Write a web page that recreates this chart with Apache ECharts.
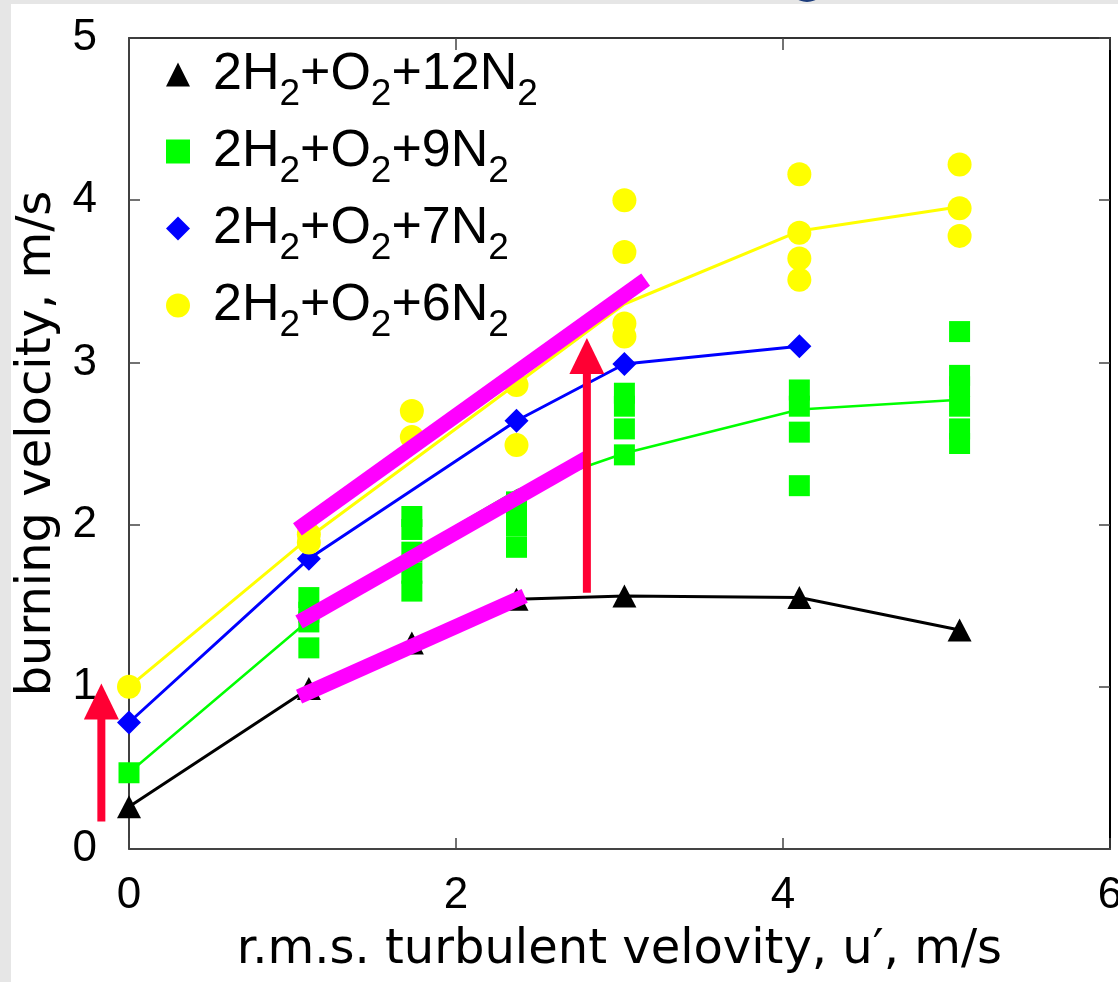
<!DOCTYPE html>
<html>
<head>
<meta charset="utf-8">
<script src="https://cdn.jsdelivr.net/npm/echarts/dist/echarts.min.js"></script>
<style>
html, body { margin: 0; padding: 0; background: #e6e6e6; }
#chart { width: 1118px; height: 982px; }
</style>
</head>
<body>
<div id="chart"></div>
<script>
// mixtures (legend order)
var mixNames = ['2H2+O2+12N2', '2H2+O2+9N2', '2H2+O2+7N2', '2H2+O2+6N2']

// measured points  [u', S_T]
var n12Pts = [[0,0.26],[1.1,0.99],[1.73,1.27],[2.37,1.54],[3.03,1.56],[4.1,1.55],[5.08,1.35]]
var n9Pts = [[0,0.47],
    [1.1,1.55],[1.1,1.46],[1.1,1.40],[1.1,1.24],
    [1.73,2.05],[1.73,1.97],[1.73,1.83],[1.73,1.70],[1.73,1.59],
    [2.37,2.14],[2.37,2.06],[2.37,1.99],[2.37,1.86],
    [3.03,2.81],[3.03,2.73],[3.03,2.59],[3.03,2.43],
    [4.1,2.83],[4.1,2.73],[4.1,2.57],[4.1,2.24],
    [5.08,3.19],[5.08,2.92],[5.08,2.85],[5.08,2.73],[5.08,2.59],[5.08,2.50]]
var n7Pts = [[0,0.78],[1.1,1.79],[2.37,2.64],[3.03,2.99],[4.1,3.10]]
var n6Pts = [[0,1.0],[1.1,1.94],[1.1,1.89],[1.73,2.70],[1.73,2.54],[2.37,2.86],[2.37,2.49],
    [3.03,4.0],[3.03,3.68],[3.03,3.24],[3.03,3.16],
    [4.1,4.16],[4.1,3.80],[4.1,3.64],[4.1,3.51],
    [5.08,4.22],[5.08,3.95],[5.08,3.78]]

// mean curves
var n12Line = [[0,0.26],[1.1,0.99],[1.73,1.27],[2.37,1.54],[3.03,1.56],[4.1,1.55],[5.08,1.35]]
var n9Line = [[0,0.47],[1.1,1.41],[1.73,1.83],[2.37,2.21],[3.03,2.44],[4.1,2.71],[5.08,2.77]]
var n7Line = [[0,0.78],[1.1,1.79],[2.37,2.64],[3.03,2.99],[4.1,3.10]]
var n6Line = [[0,1.0],[1.1,1.92],[3.03,3.36],[4.1,3.81],[5.08,3.96]]

// magenta guide lines and red arrows
var guideUpper = [[1.03,1.97],[3.16,3.51]]
var guideMiddle = [[1.04,1.40],[2.80,2.41]]
var guideLower = [[1.04,0.94],[2.42,1.56]]
var arrowLeft = [[-0.17,0.17],[-0.17,0.91]]
var arrowRight = [[2.80,1.58],[2.80,3.04]]

var xTicks = [0, 2, 4, 6]
var yTicks = [0, 1, 2, 3, 4, 5]

var colors = ['#000000', '#00ff00', '#0000ff', '#ffff00']
var symbols = ['triangle', 'rect', 'diamond', 'circle']
var symSizes = [[24,23], 21, 24, 24]
var lineWidths = [3, 2.5, 3, 3]

// plot box in px (used to put the inward tick axes on the opposite side)
var plotW = 981
var plotH = 811

var chart = echarts.init(document.getElementById('chart'))

var series = []
var pts = [n12Pts, n9Pts, n7Pts, n6Pts]
var lines = [n12Line, n9Line, n7Line, n6Line]
lines.forEach(function (d, i) {
    series.push({
        name: mixNames[i] + ' line',
        type: 'line',
        data: d,
        showSymbol: false,
        symbol: 'none',
        lineStyle: { color: colors[i], width: lineWidths[i] },
        z: 2
    })
})
pts.forEach(function (d, i) {
    series.push({
        name: mixNames[i],
        type: 'scatter',
        data: d,
        symbol: symbols[i],
        symbolSize: symSizes[i],
        itemStyle: { color: colors[i], opacity: 1 },
        z: 3
    })
})
;[guideUpper, guideMiddle, guideLower].forEach(function (d) {
    series.push({
        type: 'line',
        data: d,
        showSymbol: false,
        symbol: 'none',
        lineStyle: { color: '#ff00ff', width: 15, cap: 'butt' },
        z: 4
    })
})
// arrows live on a wider, hidden grid so the left one is not clipped
;[arrowLeft, arrowRight].forEach(function (d) {
    series.push({
        type: 'line',
        xAxisIndex: 2,
        yAxisIndex: 2,
        data: [
            { value: d[0], symbol: 'none' },
            { value: d[1], symbol: 'triangle', symbolSize: [35, 36] }
        ],
        showSymbol: true,
        itemStyle: { color: '#ff0033' },
        lineStyle: { color: '#ff0033', width: 8, cap: 'butt' },
        z: 5
    })
})

function formula(name) {
    return '{g| }{n|' + name.replace(/([A-Z])(\d+)/g, '$1}{s|$2}{n|') + '}'
}

var tickFont = { fontFamily: 'Liberation Sans', fontSize: 44, color: '#000' }

// axis that only draws ticks; placed on the opposite side so they point into the plot
function tickAxis(pos, off, min, max, step, len) {
    return {
        type: 'value', gridIndex: 2, min: min, max: max, interval: step, position: pos, offset: off,
        axisLine: { show: false, onZero: false },
        axisTick: { show: true, length: len, lineStyle: { color: '#444', width: 1.5 } },
        axisLabel: { show: false },
        splitLine: { show: false }
    }
}

var gridBox = { left: 129, right: 8, top: 38, bottom: 133, containLabel: false, outerBoundsMode: 'none' }

chart.setOption({
    animation: false,
    backgroundColor: '#e6e6e6',
    graphic: [
        { type: 'rect', shape: { x: 11, y: 4, width: 1107, height: 978 }, style: { fill: '#ffffff' }, z: -10, silent: true },
        { type: 'circle', shape: { cx: 807, cy: -17, r: 19 }, style: { fill: '#1c3c7c' }, z: -9, silent: true }
    ],
    grid: [
        gridBox,
        { left: 0, right: 8, top: 38, bottom: 133, containLabel: false, outerBoundsMode: 'none' },
        Object.assign({}, gridBox)
    ],
    legend: {
        orient: 'vertical',
        left: 161,
        top: 31,
        itemWidth: 24,
        itemHeight: 24,
        itemGap: 0,
        selectedMode: false,
        data: mixNames,
        formatter: formula,
        textStyle: {
            color: '#000',
            rich: {
                g: { width: 18 },
                n: { fontFamily: 'Liberation Sans', fontSize: 52, lineHeight: 56, color: '#000' },
                s: { fontFamily: 'Liberation Sans', fontSize: 37, lineHeight: 16, padding: [40, 0, 0, 0], color: '#000' }
            }
        }
    },
    xAxis: [
        {
            type: 'value', min: 0, max: 6, interval: 2,
            name: 'r.m.s. turbulent velovity, u\u2032, m/s',
            nameLocation: 'middle',
            nameGap: 78,
            nameTextStyle: { fontFamily: 'DejaVu Sans', fontSize: 48, color: '#000' },
            axisLine: { onZero: false, lineStyle: { color: '#444', width: 2 } },
            axisTick: { show: false },
            axisLabel: Object.assign({ margin: 25, formatter: function (v) { return xTicks.indexOf(v) >= 0 ? String(v) : '' } }, tickFont),
            splitLine: { show: false }
        },
        {
            type: 'value', min: 0, max: 6, interval: 2, position: 'top',
            axisLine: { onZero: false, lineStyle: { color: '#333', width: 2 } },
            axisTick: { show: false },
            axisLabel: { show: false },
            splitLine: { show: false }
        },
        { type: 'value', gridIndex: 1, min: -0.79, max: 6, show: false, axisLine: { onZero: false } },
        tickAxis('top', -plotH, 0, 6, 2, 11),
        tickAxis('bottom', -plotH, 0, 6, 2, 12)
    ],
    yAxis: [
        {
            type: 'value', min: 0, max: 5, interval: 1,
            name: 'burning velocity, m/s',
            nameLocation: 'middle',
            nameGap: 62,
            nameTextStyle: { fontFamily: 'DejaVu Sans', fontSize: 48, color: '#000' },
            axisLine: { onZero: false, lineStyle: { color: '#000', width: 1.5 } },
            axisTick: { show: false },
            axisLabel: Object.assign({ margin: 32, formatter: function (v) { return yTicks.indexOf(v) >= 0 ? String(v) : '' } }, tickFont),
            splitLine: { show: false }
        },
        {
            type: 'value', min: 0, max: 5, interval: 1, position: 'right',
            axisLine: { onZero: false, lineStyle: { color: '#000', width: 2 } },
            axisTick: { show: false },
            axisLabel: { show: false },
            splitLine: { show: false }
        },
        { type: 'value', gridIndex: 1, min: 0, max: 5, show: false, axisLine: { onZero: false } },
        tickAxis('right', -plotW, 0, 5, 1, 11),
        tickAxis('left', -plotW, 0, 5, 1, 11)
    ],
    series: series
})
</script>
</body>
</html>
